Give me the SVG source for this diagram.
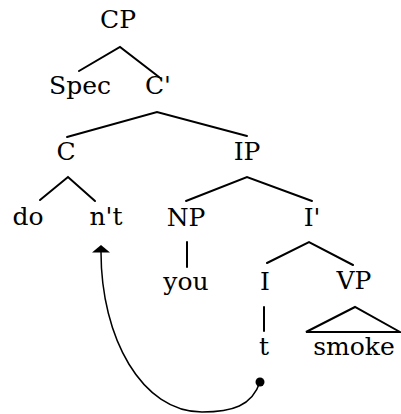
<svg xmlns="http://www.w3.org/2000/svg" width="401" height="414" viewBox="0 0 401 414">
<style>
text{font-family:"DejaVu Serif",serif;font-size:25px;fill:#000;text-anchor:middle}
.e{stroke:#000;stroke-width:2;fill:none;stroke-linecap:round}
.m{stroke:#000;stroke-width:1.5;fill:none}
</style>
<rect width="401" height="414" fill="#fff"/>
<g id="connectors">
<path class="e" d="M79,71 L120,47 L159,77"/>
<path class="e" d="M67,137 L157,112 L247,136"/>
<path class="e" d="M40,200 L68,177 L95,201"/>
<path class="e" d="M186,201 L247,177 L312,201"/>
<path class="e" d="M187,242 L187,267"/>
<path class="e" d="M267,263 L309,242 L353,265"/>
<path class="e" d="M264,307 L264,331"/>
<path class="e" d="M306,332 L355,307 L400,332 Z" stroke-linejoin="miter"/>
<path class="m" d="M260,382 C252,406 232,412 202,412 C142,412 101,338 101,252"/>
<polygon points="101,245 92,252.5 110,252.5" fill="#000"/>
<circle cx="260" cy="382" r="4.5" fill="#000"/>
</g>
<g id="CP"><text x="118" y="28">CP</text></g>
<g id="Spec"><text x="80" y="94">Spec</text></g>
<g id="Cbar"><text x="158" y="94">C'</text></g>
<g id="C"><text x="66" y="160">C</text></g>
<g id="IP"><text x="247" y="160">IP</text></g>
<g id="do"><text x="28" y="225">do</text></g>
<g id="nt"><text x="106" y="225">n't</text></g>
<g id="NP"><text x="186" y="226">NP</text></g>
<g id="Ibar"><text x="312" y="226">I'</text></g>
<g id="you"><text x="186" y="290">you</text></g>
<g id="I"><text x="265" y="290">I</text></g>
<g id="VP"><text x="354" y="289">VP</text></g>
<g id="t"><text x="264" y="355">t</text></g>
<g id="smoke"><text x="354" y="355">smoke</text></g>
</svg>
